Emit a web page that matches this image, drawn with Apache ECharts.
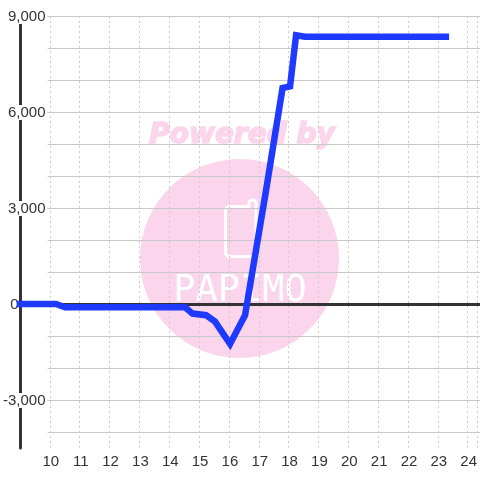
<!DOCTYPE html>
<html>
<head>
<meta charset="utf-8">
<style>
	html, body { margin: 0; padding: 0; background: #fff; }
	#main { width: 480px; height: 480px; }
</style>
<script src="https://cdn.jsdelivr.net/npm/echarts@6/dist/echarts.min.js"></script>
</head>
<body>
<div id="main"></div>
<script>
	// hour of day / value
	var hours = [8.9, 10.2, 10.5, 14.5, 14.75, 15.2, 15.5, 16, 16.5, 17.2, 17.75, 18, 18.2, 18.5, 23.3];
	var values = [0, 0, -100, -100, -300, -350, -550, -1250, -350, 3550, 6750, 6800, 8400, 8350, 8350];
	var yLabels = [-3000, 0, 3000, 6000, 9000];
	var wmTitle = 'Powered by';
	var wmName = 'PAPIMO';

	var textColor = '#333';
	var axisColor = '#333';
	var gridColor = '#c8c8c8';
	var pink = '#fbd5ec';
	var font = '"Liberation Sans", Arial, sans-serif';

	var chart = echarts.init(document.getElementById('main'), null, { renderer: 'canvas' });

	chart.setOption({
		animation: false,
		backgroundColor: '#fff',
		grid: [
			// horizontal grid lines and value labels
			{ left: 46, right: 0, top: 16.5, height: 416 },
			// vertical dotted lines and hour labels
			{ left: 20, right: 0, top: 16, height: 432 },
			// heavy axis lines and the series
			{ left: 20, right: 0, top: 24, height: 424 }
		],
		xAxis: [{
			gridIndex: 0, type: 'value', min: 10, max: 24, show: false
		}, {
			gridIndex: 1, type: 'value', min: 9, max: 24.33, interval: 1, position: 'bottom', z: 1,
			axisLine: { show: false },
			axisTick: { show: false },
			axisLabel: {
				color: textColor, fontFamily: font, fontSize: 15, margin: 6,
				padding: [0, 0, 0, 2],
				showMaxLabel: false,
				formatter: function (v) { return v === 9 ? '' : String(v); }
			},
			splitLine: { show: true, lineStyle: { color: '#ccc', type: [2, 3], width: 1 } }
		}, {
			gridIndex: 2, type: 'value', min: 9, max: 24.33, z: 2,
			axisLine: { show: true, onZero: true, lineStyle: { color: axisColor, width: 3 } },
			axisTick: { show: false },
			axisLabel: { show: false },
			splitLine: { show: false }
		}],
		yAxis: [{
			gridIndex: 0, type: 'value', min: -4000, max: 9000, interval: 1000, z: 0,
			axisLine: { show: false },
			axisTick: { show: false },
			axisLabel: { show: false },
			splitLine: { show: true, lineStyle: { color: gridColor, width: 1 } }
		}, {
			gridIndex: 1, type: 'value', min: -4500, max: 9000, show: false
		}, {
			gridIndex: 2, type: 'value', min: -4500, max: 8750, z: 2,
			axisLine: { show: true, onZero: false, lineStyle: { color: axisColor, width: 3 } },
			axisTick: { show: false },
			axisLabel: { show: false },
			splitLine: { show: false }
		}, {
			// labels sit on top of the heavy axis line, with a white box; the 0 sits left of it
			gridIndex: 0, type: 'value', position: 'left', min: -4000, max: 9000, interval: 1000, z: 3,
			axisLine: { show: false, onZero: false },
			axisTick: { show: false },
			axisLabel: {
				color: textColor, fontFamily: font, fontSize: 15, margin: 2,
				formatter: function (v) {
					if (yLabels.indexOf(v) < 0) return '';
					return v === 0 ? '{zero|0}' : '{num|' + v.toLocaleString('en-US') + '}';
				},
				rich: {
					num: { color: textColor, fontFamily: font, fontSize: 15, backgroundColor: '#fff' },
					zero: { color: textColor, fontFamily: font, fontSize: 15, padding: [0, 27, 0, 0] }
				}
			},
			splitLine: { show: false }
		}],
		series: [{
			type: 'line',
			xAxisIndex: 2,
			yAxisIndex: 2,
			data: hours.map(function (h, i) { return [h, values[i]]; }),
			showSymbol: false,
			clip: false,
			z: 5,
			lineStyle: { color: '#1f3aff', width: 6.5, cap: 'butt', join: 'miter' }
		}],
		graphic: {
			elements: [{
				type: 'circle', z: -1, silent: true,
				shape: { cx: 239.5, cy: 258.5, r: 99.5 },
				style: { fill: pink }
			}, {
				type: 'text', z: -1, silent: true, x: 242, y: 136,
				style: {
					text: wmTitle, fill: pink, stroke: pink, lineWidth: 1.5, align: 'center', verticalAlign: 'middle',
					font: 'italic bold 28px "DejaVu Sans"'
				}
			}, {
				type: 'polygon', z: -1, silent: true,
				shape: { points: [[228, 206.5], [249, 206.5], [249, 202], [251, 200], [254, 200], [256, 202], [256, 254], [254, 256.5], [228, 256.5], [225.5, 254], [225.5, 209]] },
				style: { fill: 'none', stroke: '#fff', lineWidth: 3, lineJoin: 'round' }
			}, {
				type: 'text', z: -1, silent: true, x: 240, y: 291,
				style: {
					text: wmName, fill: '#fff', align: 'center', verticalAlign: 'middle',
					font: '37px "DejaVu Sans Mono"'
				}
			}]
		}
	});
</script>
</body>
</html>
